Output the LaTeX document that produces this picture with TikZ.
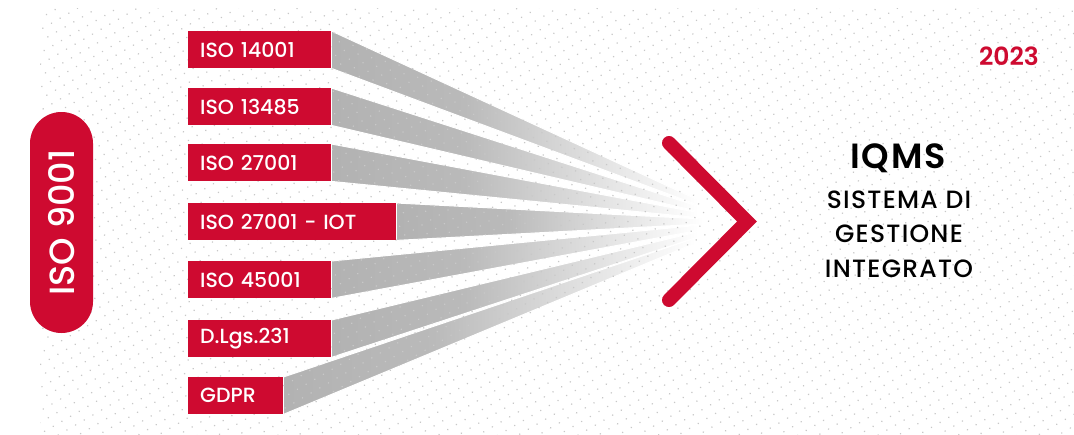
\documentclass[tikz,border=0pt]{standalone}
\usepackage{fontspec}
\setmainfont{Poppins}
\newfontfamily\popmed{Poppins Medium}
\newfontfamily\popsemi{Poppins SemiBold}
\newfontfamily\popwide[LetterSpace=5]{Poppins Medium}
\newfontfamily\popwidesemi[LetterSpace=5]{Poppins SemiBold}
\usetikzlibrary{patterns.meta}
\definecolor{brand}{RGB}{206,10,48}
\definecolor{rayg}{RGB}{178,178,178}
\definecolor{dotg}{RGB}{200,200,200}
\pgfdeclarehorizontalshading{rayfade}{100bp}{color(0bp)=(rayg); color(25bp)=(rayg); color(42bp)=(rayg!90!white); color(72bp)=(white); color(100bp)=(white)}
\pgfdeclarelayer{back}
\pgfdeclarelayer{dotlayer}
\pgfsetlayers{back,dotlayer,main}
\begin{document}
\begin{tikzpicture}[x=1pt,y=-1pt,
  lbl/.style={fill=brand, text=white, anchor=north west, minimum height=37pt,
    inner xsep=12pt, inner ysep=0pt, align=left, font=\popmed\fontsize{20.5}{24}\selectfont},
  ray/.style={shading=rayfade, draw=white, line width=1pt},
  chev/.style={draw=brand, line width=14pt, line cap=round, line join=miter},
  title/.style={text=black, font=\popwidesemi\fontsize{35}{40}\selectfont},
  sub/.style={text=black, align=center, font=\popwide\fontsize{25}{34.5}\selectfont},
  year/.style={text=brand, font=\popsemi\fontsize{25}{30}\selectfont},
  pill/.style={fill=brand, text=white, rotate=90, rounded corners=31.5pt,
    minimum width=221pt, minimum height=63pt, inner sep=0pt,
    font=\popmed\fontsize{35}{40}\selectfont}
]
\useasboundingbox (0,0) rectangle (1074,434);
\begin{pgfonlayer}{back}
  \fill[white] (0,0) rectangle (1074,434);
\end{pgfonlayer}
\begin{pgfonlayer}{dotlayer}
  \fill[pattern={Dots[distance=10pt,radius=0.85pt,angle=30]}, pattern color=dotg] (40,8) rectangle (1074,434);
\end{pgfonlayer}

% ISO 9001 pill
\node[pill] (iso) at (61.5,222.5) {ISO 9001};

% standards boxes
\node[lbl, text width=119pt] (b1) at (188,31)  {ISO 14001};
\node[lbl, text width=119pt] (b2) at (188,88)  {ISO 13485};
\node[lbl, text width=119pt] (b3) at (188,144) {ISO 27001};
\node[lbl, text width=184pt] (b4) at (188,203) {ISO 27001 - IOT};
\node[lbl, text width=119pt] (b5) at (188,261) {ISO 45001};
\node[lbl, text width=119pt] (b6) at (188,320) {D.Lgs.231};
\node[lbl, text width=71pt]  (b7) at (188,377) {GDPR};

% converging rays
\begin{pgfonlayer}{back}
  \foreach \b [count=\i from 0] in {b1,b2,b3,b4,b5,b6,b7}{
    \coordinate (e\i a) at (722,{211+3*\i});
    \coordinate (e\i b) at (722,{214+3*\i});
    \path[ray] (\b.north east) -- (e\i a) -- (e\i b) -- (\b.south east) -- cycle;
  }
\end{pgfonlayer}

% chevron
\coordinate (c1) at (669,143);
\coordinate (ct) at (747,221.5);
\coordinate (c2) at (669,300);
\draw[chev] (c1) -- (ct) -- (c2);

% texts
\node[title] (iqms) at (898,158) {IQMS};
\node[sub] (sgi) at (899,234) {SISTEMA DI\\GESTIONE\\INTEGRATO};
\node[year] (yr) at (1009,56) {2023};
\end{tikzpicture}
\end{document}
